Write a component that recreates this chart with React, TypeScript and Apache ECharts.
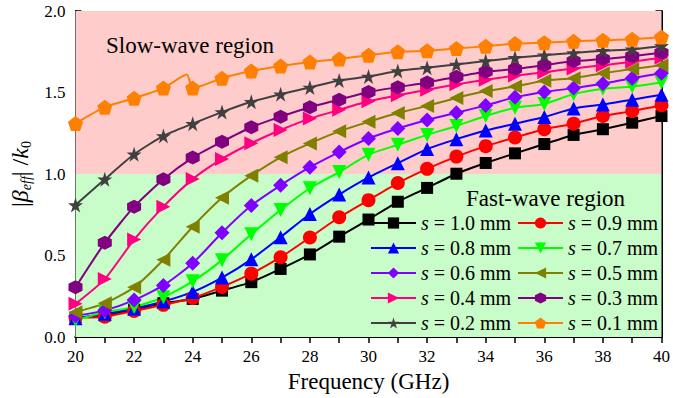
import React, { useEffect, useRef } from "react";
import * as echarts from "echarts";

const freqs = [20, 21, 22, 23, 24, 25, 26, 27, 28, 29, 30, 31, 32, 33, 34, 35, 36, 37, 38, 39, 40];
const sLabels = ["1.0", "0.9", "0.8", "0.7", "0.6", "0.5", "0.4", "0.3", "0.2", "0.1"];
const s10 = [0.12, 0.133, 0.168, 0.208, 0.234, 0.285, 0.337, 0.418, 0.507, 0.616, 0.721, 0.83, 0.915, 1.002, 1.068, 1.127, 1.184, 1.24, 1.275, 1.315, 1.356];
const s09 = [0.12, 0.125, 0.16, 0.198, 0.24, 0.308, 0.389, 0.49, 0.611, 0.735, 0.84, 0.945, 1.032, 1.107, 1.171, 1.224, 1.275, 1.309, 1.356, 1.386, 1.422];
const s08 = [0.115, 0.143, 0.176, 0.218, 0.277, 0.365, 0.477, 0.613, 0.755, 0.874, 0.979, 1.067, 1.153, 1.214, 1.267, 1.309, 1.35, 1.402, 1.426, 1.456, 1.487];
const s07 = [0.105, 0.153, 0.184, 0.244, 0.342, 0.472, 0.631, 0.78, 0.913, 1.012, 1.119, 1.18, 1.24, 1.295, 1.356, 1.406, 1.43, 1.49, 1.523, 1.537, 1.562];
const s06 = [0.13, 0.164, 0.227, 0.317, 0.453, 0.64, 0.807, 0.931, 1.042, 1.135, 1.218, 1.279, 1.331, 1.376, 1.421, 1.471, 1.503, 1.527, 1.554, 1.588, 1.618];
const s05 = [0.153, 0.207, 0.305, 0.474, 0.677, 0.854, 0.99, 1.103, 1.188, 1.262, 1.32, 1.374, 1.418, 1.467, 1.509, 1.537, 1.572, 1.588, 1.618, 1.644, 1.668];
const s04 = [0.204, 0.356, 0.598, 0.8, 0.969, 1.093, 1.189, 1.27, 1.34, 1.394, 1.446, 1.483, 1.517, 1.55, 1.578, 1.604, 1.624, 1.648, 1.668, 1.689, 1.713];
const s03 = [0.305, 0.578, 0.8, 0.968, 1.101, 1.198, 1.287, 1.352, 1.41, 1.456, 1.503, 1.533, 1.562, 1.597, 1.628, 1.644, 1.668, 1.693, 1.705, 1.723, 1.744];
const s02 = [0.81, 0.968, 1.121, 1.234, 1.309, 1.38, 1.443, 1.49, 1.531, 1.574, 1.598, 1.632, 1.652, 1.672, 1.693, 1.713, 1.729, 1.743, 1.756, 1.765, 1.786];
const s01 = [1.31, 1.41, 1.465, 1.527, 1.527, 1.588, 1.632, 1.663, 1.687, 1.705, 1.729, 1.75, 1.756, 1.77, 1.784, 1.8, 1.806, 1.814, 1.82, 1.826, 1.84];
const s01Spike = [23.8, 1.61];

const colors = ["#000000", "#ff0000", "#0000ff", "#00ff00", "#8000ff", "#808000", "#ff0080", "#800080", "#404040", "#ff8000"];

const STAR = "path://M0,-1 L0.2245,-0.309 L0.951,-0.309 L0.363,0.118 L0.588,0.809 L0,0.382 L-0.588,0.809 L-0.363,0.118 L-0.951,-0.309 L-0.2245,-0.309 Z";
const PENT = "path://M0,-1 L0.951,-0.309 L0.588,0.809 L-0.588,0.809 L-0.951,-0.309 Z";
const HEX = "path://M0,-1 L0.866,-0.5 L0.866,0.5 L0,1 L-0.866,0.5 L-0.866,-0.5 Z";

const symbols = [
  { symbol: "rect", rotate: 0, size: 12 },
  { symbol: "circle", rotate: 0, size: 14 },
  { symbol: "triangle", rotate: 0, size: 14 },
  { symbol: "triangle", rotate: 180, size: 14 },
  { symbol: "diamond", rotate: 0, size: 15 },
  { symbol: "triangle", rotate: 90, size: 14 },
  { symbol: "triangle", rotate: -90, size: 14 },
  { symbol: HEX, rotate: 0, size: 14 },
  { symbol: STAR, rotate: 0, size: 15 },
  { symbol: PENT, rotate: 0, size: 15 },
];

const FONT = "'Liberation Serif', 'Times New Roman', serif";

export default function App() {
  const ref = useRef<HTMLDivElement>(null);
  useEffect(() => {
    if (!ref.current) return;
    const chart = echarts.init(ref.current, null, { renderer: "svg" });
    const all = [s10, s09, s08, s07, s06, s05, s04, s03, s02, s01];
    const names = sLabels.map((l) => `s = ${l} mm`);
    const series: any[] = all.map((vals, i) => {
      let data: any[] = vals.map((v, j) => [freqs[j], v]);
      if (i === 9) {
        data = [...data.slice(0, 4), { value: s01Spike, symbolSize: 0 }, ...data.slice(4)];
      }
      const s: any = {
        name: names[i],
        type: "line",
        data,
        smooth: 0.2,
        symbol: symbols[i].symbol,
        symbolRotate: symbols[i].rotate,
        symbolSize: symbols[i].size,
        showAllSymbol: true,
        lineStyle: { color: colors[i], width: 2 },
        itemStyle: { color: colors[i] },
        z: 3,
      };
      if (i === 0) {
        s.markArea = {
          silent: true,
          z: 1,
          data: [
            [{ yAxis: 1, itemStyle: { color: "#ffcccc" } }, { yAxis: 2 }],
            [{ yAxis: 0, itemStyle: { color: "#c8fcc8" } }, { yAxis: 1 }],
          ],
        };
      }
      return s;
    });
    const legendBase = {
      orient: "vertical",
      itemWidth: 45,
      itemHeight: 14,
      itemGap: 5,
      padding: 0,
      textStyle: {
        fontFamily: FONT,
        fontSize: 20,
        lineHeight: 20,
        color: "#000",
        rich: { i: { fontStyle: "italic", fontFamily: FONT, fontSize: 20, lineHeight: 20 } },
      },
      formatter: (n: string) => "{i|s}" + n.slice(1),
    };
    const option: any = {
      animation: false,
      grid: { left: 75.5, right: 8.5, top: 11, bottom: 55.5 },
      xAxis: [
        {
          type: "value",
          min: 20,
          max: 40,
          interval: 2,
          name: "Frequency (GHz)",
          nameLocation: "middle",
          nameGap: 29,
          nameTextStyle: { fontFamily: FONT, fontSize: 23, color: "#000" },
          axisLine: { onZero: false, lineStyle: { color: "#000", width: 2 } },
          axisTick: { inside: true, length: 6, lineStyle: { color: "#000", width: 1.5 } },
          minorTick: { show: true, splitNumber: 2, length: 4, lineStyle: { color: "#000", width: 1.5 } },
          axisLabel: { fontFamily: FONT, fontSize: 17, color: "#000", margin: 11 },
          splitLine: { show: false },
        },
        {
          type: "value",
          position: "top",
          min: 20,
          max: 40,
          interval: 1,
          axisLine: { lineStyle: { color: "#000", width: 2 } },
          axisTick: { inside: true, length: 6, lineStyle: { color: "#000", width: 1.5 } },
          axisLabel: { show: false },
          splitLine: { show: false },
        },
      ],
      yAxis: [
        {
          type: "value",
          min: 0,
          max: 2,
          interval: 0.5,
          name: "{a||}{b|β}{c|eff}{a|| /}{b|k}{d|0}",
          nameLocation: "middle",
          nameGap: 42,
          nameTextStyle: {
            fontFamily: FONT,
            color: "#000",
            rich: {
              a: { fontFamily: FONT, fontSize: 24, color: "#000" },
              b: { fontFamily: FONT, fontSize: 24, fontStyle: "italic", color: "#000" },
              c: { fontFamily: FONT, fontSize: 14, fontStyle: "italic", color: "#000", padding: [12, 0, 0, 0] },
              d: { fontFamily: FONT, fontSize: 14, color: "#000", padding: [12, 0, 0, 0] },
            },
          },
          axisLine: { lineStyle: { color: "#000", width: 2 } },
          axisTick: { inside: true, length: 6, lineStyle: { color: "#000", width: 1.5 } },
          minorTick: { show: true, splitNumber: 2, length: 6, lineStyle: { color: "#000", width: 1.5 } },
          axisLabel: { fontFamily: FONT, fontSize: 17, color: "#000", margin: 10, formatter: (v: number) => v.toFixed(1) },
          splitLine: { show: false },
        },
        {
          type: "value",
          position: "right",
          min: 0,
          max: 2,
          interval: 0.25,
          axisLine: { lineStyle: { color: "#000", width: 2 } },
          axisTick: { inside: true, length: 6, lineStyle: { color: "#000", width: 1.5 } },
          axisLabel: { show: false },
          splitLine: { show: false },
        },
      ],
      legend: [
        { ...legendBase, left: 370, top: 213, data: [names[0], names[2], names[4], names[6], names[8]] },
        { ...legendBase, left: 517, top: 213, data: [names[1], names[3], names[5], names[7], names[9]] },
      ],
      graphic: [
        { type: "text", x: 106, y: 45.5, style: { text: "Slow-wave region", font: `23px ${FONT}`, fill: "#000", verticalAlign: "middle" }, z: 10 },
        { type: "text", x: 466, y: 198, style: { text: "Fast-wave region", font: `23px ${FONT}`, fill: "#000", verticalAlign: "middle" }, z: 10 },
      ],
      series,
    };
    chart.setOption(option);
    return () => chart.dispose();
  }, []);
  return <div ref={ref} style={{ position: "fixed", left: 0, top: 0, width: 673, height: 398, background: "#fff" }} />;
}
